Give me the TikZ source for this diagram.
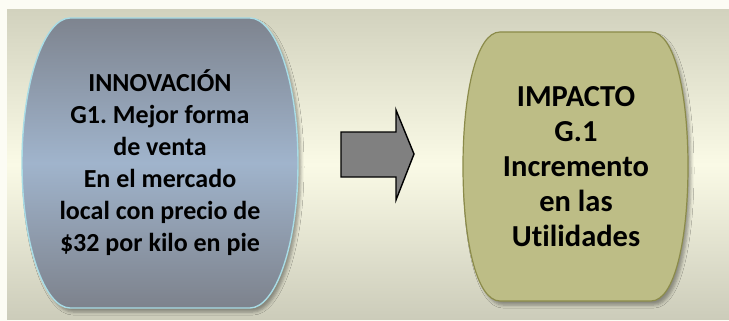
\documentclass[tikz,border=0pt]{standalone}
\usepackage{fontspec}
\setmainfont[Ligatures=NoCommon]{Carlito}
\usetikzlibrary{shadows.blur}
\definecolor{pageBg}{RGB}{252,252,244}
\definecolor{panTop}{RGB}{210,210,190}
\definecolor{panMid}{RGB}{250,250,230}
\definecolor{panBot}{RGB}{204,204,186}
\definecolor{leftTop}{RGB}{126,132,143}
\definecolor{leftMid}{RGB}{160,180,204}
\definecolor{leftBot}{RGB}{125,130,140}
\definecolor{leftEdge}{RGB}{168,220,230}
\definecolor{rightFill}{RGB}{189,189,134}
\definecolor{rightEdge}{RGB}{139,139,74}
\definecolor{arrowFill}{RGB}{128,128,128}
\tikzset{
  softshadow/.style={blur shadow={shadow xshift=3pt, shadow yshift=-4pt, shadow blur radius=3pt, shadow opacity=35}},
  leftshape/.style={draw=leftEdge, line width=1.4pt, top color=leftTop, bottom color=leftBot, middle color=leftMid, softshadow},
  rightshape/.style={draw=rightEdge, line width=1.2pt, fill=rightFill, softshadow},
  blockarrow/.style={draw=black, line width=1.4pt, fill=arrowFill, line join=miter},
  lefttext/.style={align=center, inner sep=0pt, font=\frenchspacing\bfseries\fontsize{26}{32}\selectfont},
  righttext/.style={align=center, inner sep=0pt, font=\frenchspacing\bfseries\fontsize{30.5}{35}\selectfont}
}
\begin{document}
\begin{tikzpicture}[x=1pt,y=-1pt]
\useasboundingbox (0,0) rectangle (729,321);
\fill[pageBg] (0,0) rectangle (729,321);
\shade[top color=panTop, bottom color=panBot, middle color=panMid] (7,10) rectangle (729,319);
% left shape
\path[leftshape] (70,18) -- (250,18) .. controls (275,18) and (298,80) .. (298,163)
  .. controls (298,246) and (275,308) .. (250,308) -- (70,308)
  .. controls (45,308) and (22,246) .. (22,163)
  .. controls (22,80) and (45,18) .. (70,18) -- cycle;
\node[lefttext] (innov) at (160,162.5) {INNOVACIÓN\\G1. Mejor forma\\de venta\\En el mercado\\local con precio de\\\$32 por kilo en pie};
% arrow
\path[blockarrow] (341,132) -- (396,132) -- (396,110) -- (414,154) -- (396,200) -- (396,177) -- (341,177) -- cycle;
% right shape
\path[rightshape] (500,32) -- (651,32) .. controls (675,32) and (688,95) .. (688,166.5)
  .. controls (688,238) and (675,301) .. (651,301) -- (500,301)
  .. controls (476,301) and (463,238) .. (463,166.5)
  .. controls (463,95) and (476,32) .. (500,32) -- cycle;
\node[righttext] (impact) at (576,167) {IMPACTO\\G.1\\Incremento\\en las\\Utilidades};
\end{tikzpicture}
\end{document}
